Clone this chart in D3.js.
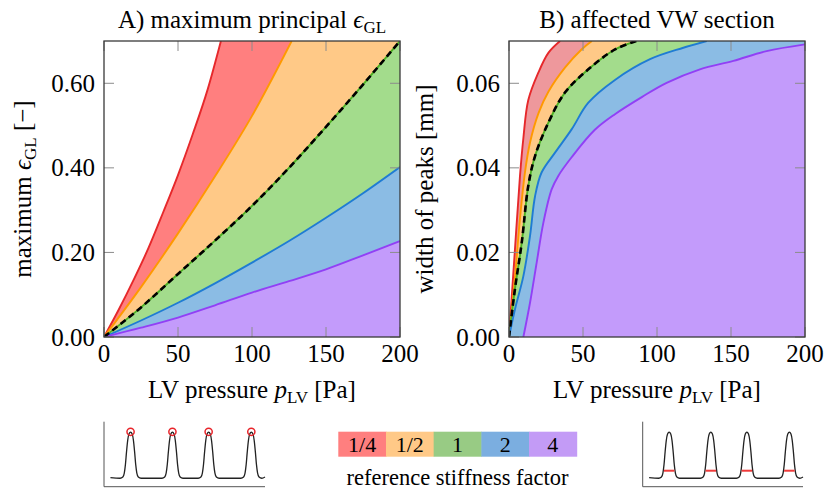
<!DOCTYPE html>
<html><head><meta charset="utf-8">
<script src="https://cdn.jsdelivr.net/npm/d3@7"></script>
</head>
<body style="margin:0">
<svg id="chart" width="826" height="490" font-family="Liberation Serif"></svg>
<script>
// ---------- DATA ----------
const stiffnessLabels = ["1/4", "1/2", "1", "2", "4"];
const xTicks = [0, 50, 100, 150, 200];
const yTicksA = [0, 0.2, 0.4, 0.6];
const yTicksB = [0, 0.02, 0.04, 0.06];

// A) maximum principal strain vs pressure
const strainQuarter = [[0,0],[10,0.065],[20,0.135],[30,0.21],[40,0.295],[50,0.383],[60,0.48],[70,0.585],[79,0.7]];
const strainHalf    = [[0,0],[25,0.118],[50,0.245],[75,0.38],[100,0.523],[126.8,0.7]];
const strainOne     = [[0,0],[25,0.07],[50,0.149],[75,0.228],[100,0.31],[125,0.4],[150,0.497],[175,0.597],[200,0.7]];
const strainTwo     = [[0,0],[25,0.039],[50,0.081],[75,0.127],[100,0.176],[125,0.227],[150,0.282],[175,0.34],[200,0.402]];
const strainFour    = [[0,0],[25,0.022],[50,0.046],[75,0.075],[100,0.105],[125,0.132],[150,0.16],[175,0.193],[200,0.227]];

// B) width of peaks vs pressure
const widthQuarter = [[0,0],[3.5,0.018],[7.4,0.038],[9.7,0.047],[13,0.056],[19.8,0.0625],[26.6,0.0672],[34.5,0.07]];
const widthHalf    = [[0,0],[4,0.014],[7.4,0.028],[10.8,0.039],[14.2,0.046],[20,0.053],[26.6,0.058],[37.8,0.0637],[49,0.068],[56,0.07]];
const widthOne     = [[0,0],[4,0.0113],[8.6,0.0223],[13,0.0357],[17.6,0.0428],[26.6,0.0507],[37.8,0.0578],[53.6,0.0633],[71.6,0.068],[86,0.07]];
const widthTwo     = [[0,0],[4,0.0065],[9.7,0.0144],[14.2,0.0239],[17.6,0.0333],[22,0.0389],[31.1,0.0436],[42.3,0.0491],[53.6,0.0554],[71.6,0.0608],[95.3,0.0657],[117.8,0.0684],[133.6,0.07]];
const widthFour    = [[9.7,0],[14.2,0.0081],[18.7,0.0176],[23.2,0.027],[28.8,0.0349],[33.3,0.0381],[42.3,0.0425],[58,0.049],[71.6,0.0527],[90,0.0568],[106.5,0.0601],[129,0.0633],[151.6,0.0653],[174,0.0676],[200,0.0692]];

// thumbnails (schematic signal)
const thumbPeaks = [16.5, 42.5, 65, 91.5];
const peakProfile = [[-6.5,0.13],[-4.8,0.15],[-3.9,0.21],[-3.2,0.34],[-2.5,0.54],[-1.8,0.71],[-1,0.81],[0,0.84],[1,0.81],[1.8,0.71],[2.5,0.54],[3.2,0.34],[3.9,0.21],[4.8,0.15],[6.5,0.13]];
const thumbStart = [4, 0.14];
const thumbEnd = [100, 0.15];
const halfWidthLevel = 0.246;

// ---------- STYLE ----------
const fillsA = ["#FF7F7F", "#FFC987", "#A3DC8C", "#8BBCE4", "#C39BFB"];
const fillsB = ["#EE989C", "#FFC987", "#A3DC8C", "#8BBCE4", "#C39BFB"];
const strokes = ["#E6282B", "#FF9900", "#4DB023", "#1F7CD3", "#9140F5"];
const legendFills = ["#FF7F7F", "#FFC987", "#98CB84", "#7BAEE0", "#C39BF6"];

const svg = d3.select("#chart");
function txt(sel) {
  return sel.attr("font-family", "Liberation Serif").style("font-family", '"Liberation Serif", serif').attr("fill", "#000");
}

function panel(opts) {
  const {left, right, top, bottom, yMax, yTicks, fmt, series, fills, id, curve} = opts;
  const x = d3.scaleLinear().domain([0, 200]).range([left, right]);
  const y = d3.scaleLinear().domain([0, yMax]).range([bottom, top]);
  const g = svg.append("g");
  g.append("clipPath").attr("id", id).append("rect")
    .attr("x", left).attr("y", top).attr("width", right - left).attr("height", bottom - top);
  const plot = g.append("g").attr("clip-path", `url(#${id})`);
  const line = d3.line().x(d => x(d[0])).y(d => y(d[1])).curve(curve);
  series.forEach((s, i) => {
    const last = s[s.length - 1], first = s[0];
    let p = line(s);
    if (last[0] < 200) p += `L${x(200)},${y(yMax)}`;
    p += `L${x(200)},${y(0)}L${x(first[0])},${y(0)}Z`;
    plot.append("path").attr("d", p).attr("fill", fills[i]).attr("stroke", "none");
  });
  series.forEach((s, i) => {
    plot.append("path").attr("d", line(s)).attr("fill", "none")
      .attr("stroke", strokes[i]).attr("stroke-width", 1.9);
  });
  plot.append("path").attr("d", line(series[2])).attr("fill", "none")
    .attr("stroke", "#000").attr("stroke-width", 2.6).attr("stroke-dasharray", "6.5,4");

  const tk = 10;
  const tg = g.append("g").attr("stroke", "#8c8c8c").attr("stroke-width", 1);
  xTicks.forEach(t => {
    tg.append("line").attr("x1", x(t)).attr("x2", x(t)).attr("y1", bottom).attr("y2", bottom - tk);
    tg.append("line").attr("x1", x(t)).attr("x2", x(t)).attr("y1", top).attr("y2", top + tk);
  });
  yTicks.forEach(t => {
    tg.append("line").attr("x1", left).attr("x2", left + tk).attr("y1", y(t)).attr("y2", y(t));
    tg.append("line").attr("x1", right).attr("x2", right - tk).attr("y1", y(t)).attr("y2", y(t));
  });
  g.append("rect").attr("x", left).attr("y", top).attr("width", right - left).attr("height", bottom - top)
    .attr("fill", "none").attr("stroke", "#3a3a3a").attr("stroke-width", 1.3);

  txt(g.selectAll(null).data(xTicks).enter().append("text"))
    .attr("x", d => x(d)).attr("y", bottom + 25).attr("text-anchor", "middle")
    .attr("font-size", 25).text(d => d);
  txt(g.selectAll(null).data(yTicks).enter().append("text"))
    .attr("x", left - 9).attr("y", d => y(d) + 8.5).attr("text-anchor", "end")
    .attr("font-size", 25).text(d => d3.format(fmt)(d));

  const xl = txt(g.append("text")).attr("x", (left + right) / 2).attr("y", 398)
    .attr("text-anchor", "middle").attr("font-size", 25);
  xl.append("tspan").text("LV pressure ");
  xl.append("tspan").style("font-style", "italic").text("p");
  xl.append("tspan").attr("font-size", 17).attr("dy", 5).text("LV");
  xl.append("tspan").attr("dy", -5).text(" [Pa]");
  return {x, y, g};
}

panel({left: 104, right: 400, top: 41, bottom: 337, yMax: 0.7, yTicks: yTicksA, fmt: ".2f",
  series: [strainQuarter, strainHalf, strainOne, strainTwo, strainFour], fills: fillsA, id: "clipA",
  curve: d3.curveMonotoneX});
panel({left: 509, right: 805, top: 41, bottom: 337, yMax: 0.07, yTicks: yTicksB, fmt: ".2f",
  series: [widthQuarter, widthHalf, widthOne, widthTwo, widthFour], fills: fillsB, id: "clipB",
  curve: d3.curveCatmullRom.alpha(0.5)});

const tA = txt(svg.append("text")).attr("x", 252).attr("y", 28).attr("text-anchor", "middle")
  .attr("font-size", 25);
tA.append("tspan").text("A) maximum principal ");
tA.append("tspan").style("font-style", "italic").text("ϵ");
tA.append("tspan").attr("font-size", 17).attr("dy", 5).text("GL");
txt(svg.append("text")).attr("x", 657).attr("y", 28).attr("text-anchor", "middle")
  .attr("font-size", 25).text("B) affected VW section");

const yA = txt(svg.append("text")).attr("transform", "translate(31,189) rotate(-90)")
  .attr("text-anchor", "middle").attr("font-size", 25);
yA.append("tspan").text("maximum ");
yA.append("tspan").style("font-style", "italic").text("ϵ");
yA.append("tspan").attr("font-size", 17).attr("dy", 5).text("GL");
yA.append("tspan").attr("dy", -5).text(" [−]");
txt(svg.append("text")).attr("transform", "translate(433,189) rotate(-90)")
  .attr("text-anchor", "middle").attr("font-size", 25).text("width of peaks [mm]");

const lx = d3.scaleBand().domain(stiffnessLabels).range([338.3, 576.7]).padding(0);
const lg = svg.append("g");
lg.selectAll(null).data(stiffnessLabels).enter().append("rect")
  .attr("x", d => lx(d)).attr("y", 431.7).attr("width", lx.bandwidth() + 0.5).attr("height", 25)
  .attr("fill", (d, i) => legendFills[i]);
txt(lg.selectAll(null).data(stiffnessLabels).enter().append("text"))
  .attr("x", d => lx(d) + lx.bandwidth() / 2).attr("y", 452).attr("text-anchor", "middle")
  .attr("font-size", 22).text(d => d);
txt(lg.append("text")).attr("x", 457.5).attr("y", 485).attr("text-anchor", "middle")
  .attr("font-size", 22.5).text("reference stiffness factor");

function thumb(left, right, mark) {
  const tx = d3.scaleLinear().domain([0, 100]).range([left, right]);
  const ty = d3.scaleLinear().domain([0, 1]).range([486.7, 421.7]);
  const g = svg.append("g");
  g.append("path").attr("d", `M${tx(0)},${ty(1)}L${tx(0)},${ty(0)}L${tx(100)},${ty(0)}`)
    .attr("fill", "none").attr("stroke", "#555").attr("stroke-width", 1);
  const pts = [thumbStart];
  thumbPeaks.forEach(p => peakProfile.forEach(d => pts.push([p + d[0], d[1]])));
  pts.push(thumbEnd);
  g.append("path").attr("d", d3.line().x(d => tx(d[0])).y(d => ty(d[1])).curve(d3.curveMonotoneX)(pts))
    .attr("fill", "none").attr("stroke", "#222").attr("stroke-width", 1.3);
  if (mark === "circle") {
    thumbPeaks.forEach(p => g.append("circle").attr("cx", tx(p)).attr("cy", ty(0.845)).attr("r", 3.6)
      .attr("fill", "none").attr("stroke", "#E8242A").attr("stroke-width", 1.5));
  } else {
    thumbPeaks.forEach(p => g.append("line").attr("x1", tx(p - 3.3)).attr("x2", tx(p + 3.3))
      .attr("y1", ty(halfWidthLevel)).attr("y2", ty(halfWidthLevel))
      .attr("stroke", "#F03A3A").attr("stroke-width", 2));
  }
}
thumb(104, 265, "circle");
thumb(642.7, 803, "bar");
</script>
</body></html>
